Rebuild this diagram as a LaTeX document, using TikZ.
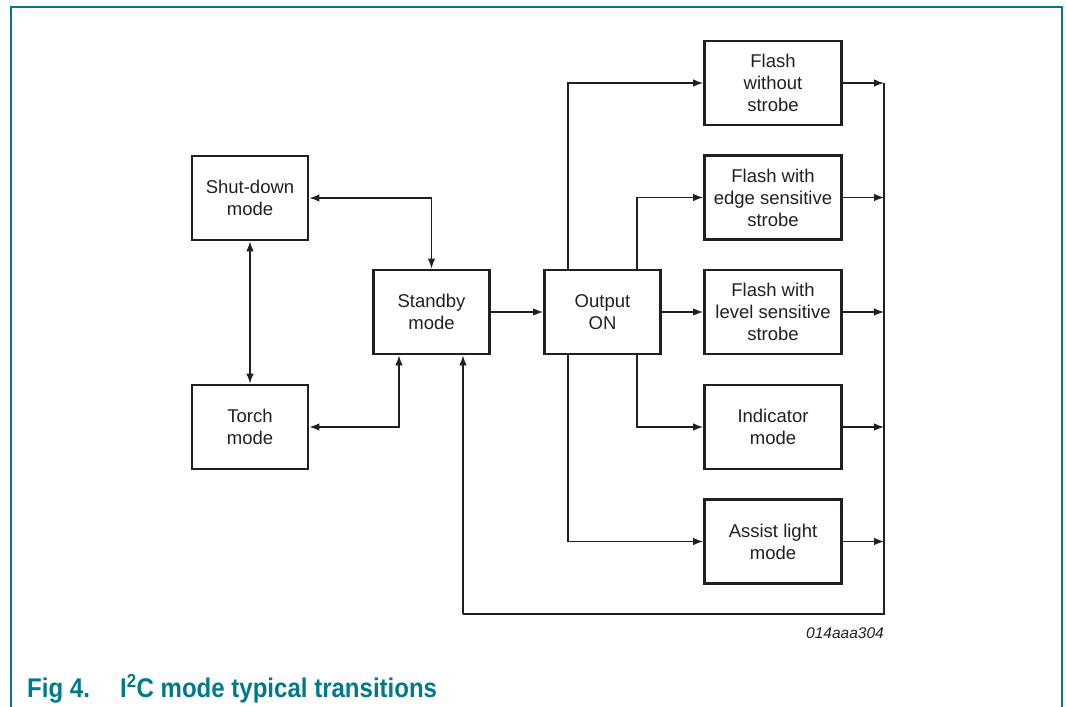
\documentclass[tikz,border=0pt]{standalone}
\usepackage{fontspec}
\setmainfont{Liberation Sans}
\usetikzlibrary{arrows.meta}
\definecolor{ink}{RGB}{35,31,32}
\definecolor{nxpteal}{RGB}{0,121,140}
\tikzset{
  modebox/.style={draw=ink, line width=2.8pt, minimum width=116pt, minimum height=84pt,
    align=center, inner sep=0pt, font=\fontsize{18.5}{22}\selectfont, text=ink},
  widebox/.style={modebox, minimum width=137pt},
  conn/.style={draw=ink, line width=1.3pt, -{Latex[length=10pt,width=7.5pt]}},
  biconn/.style={draw=ink, line width=1.3pt, {Latex[length=10pt,width=7.5pt]}-{Latex[length=10pt,width=7.5pt]}},
  plain/.style={draw=ink, line width=1.3pt},
}
\begin{document}
\begin{tikzpicture}[x=1pt,y=-1pt]
\useasboundingbox (0,0) rectangle (1066,707);
% frame
\draw[nxpteal, line width=1.3pt] (11,707) -- (11,7) -- (1062,7) -- (1062,707);

% boxes
\node[modebox] (shut) at (250,198) {Shut-down\\mode};
\node[modebox] (torch) at (250,427) {Torch\\mode};
\node[modebox] (standby) at (431.5,312) {Standby\\mode};
\node[modebox] (out) at (602.5,312) {Output\\ON};
\node[widebox] (fws) at (773,83) {Flash\\without\\strobe};
\node[widebox] (fes) at (773,197.5) {Flash with\\edge sensitive\\strobe};
\node[widebox] (fls) at (773,312) {Flash with\\level sensitive\\strobe};
\node[widebox] (ind) at (773,427) {Indicator\\mode};
\node[widebox] (ast) at (773,541.5) {Assist light\\mode};

% bus coordinates
\coordinate (b1) at (884,83);
\coordinate (b2) at (884,197.5);
\coordinate (b3) at (884,312);
\coordinate (b4) at (884,427);
\coordinate (b5) at (884,541.5);
\coordinate (bb) at (884,614);
\coordinate (fb) at (463,614);
\coordinate (ta) at (399,427);
\coordinate (sa) at (431.5,198);

% left side connections
\draw[biconn] (shut.south) -- (torch.north);
\draw[biconn] (shut.east) -- (sa) -- (standby.north);
\draw[biconn] (torch.east) -- (ta) -- (ta |- standby.south);
\draw[conn] (standby.east) -- (out.west);

% output connections
\draw[conn] (568,312 |- out.north) -- (568,83) -- (fws.west);
\draw[conn] (637,312 |- out.north) -- (637,197.5) -- (fes.west);
\draw[conn] (out.east) -- (fls.west);
\draw[conn] (637,312 |- out.south) -- (637,427) -- (ind.west);
\draw[conn] (568,312 |- out.south) -- (568,541.5) -- (ast.west);

% outputs to bus
\draw[conn] (fws.east) -- (b1);
\draw[conn] (fes.east) -- (b2);
\draw[conn] (fls.east) -- (b3);
\draw[conn] (ind.east) -- (b4);
\draw[conn] (ast.east) -- (b5);
\draw[plain] (b1) -- (bb) -- (fb);
\draw[conn] (fb) -- (fb |- standby.south);

% labels
\node[anchor=base east, inner sep=0pt, text=ink, font=\fontsize{15.5}{18}\selectfont\itshape] (code) at (884,638) {014aaa304};
\node[anchor=base west, inner sep=0pt, text=nxpteal, font=\fontsize{27}{30}\selectfont\bfseries] (fig) at (27,697) {\scalebox{0.89}[1]{Fig 4.}};
\node[anchor=base west, inner sep=0pt, text=nxpteal, font=\fontsize{27}{30}\selectfont\bfseries] (cap) at (120,697) {\scalebox{0.89}[1]{I\textsuperscript{2}C mode typical transitions}};
\end{tikzpicture}
\end{document}
